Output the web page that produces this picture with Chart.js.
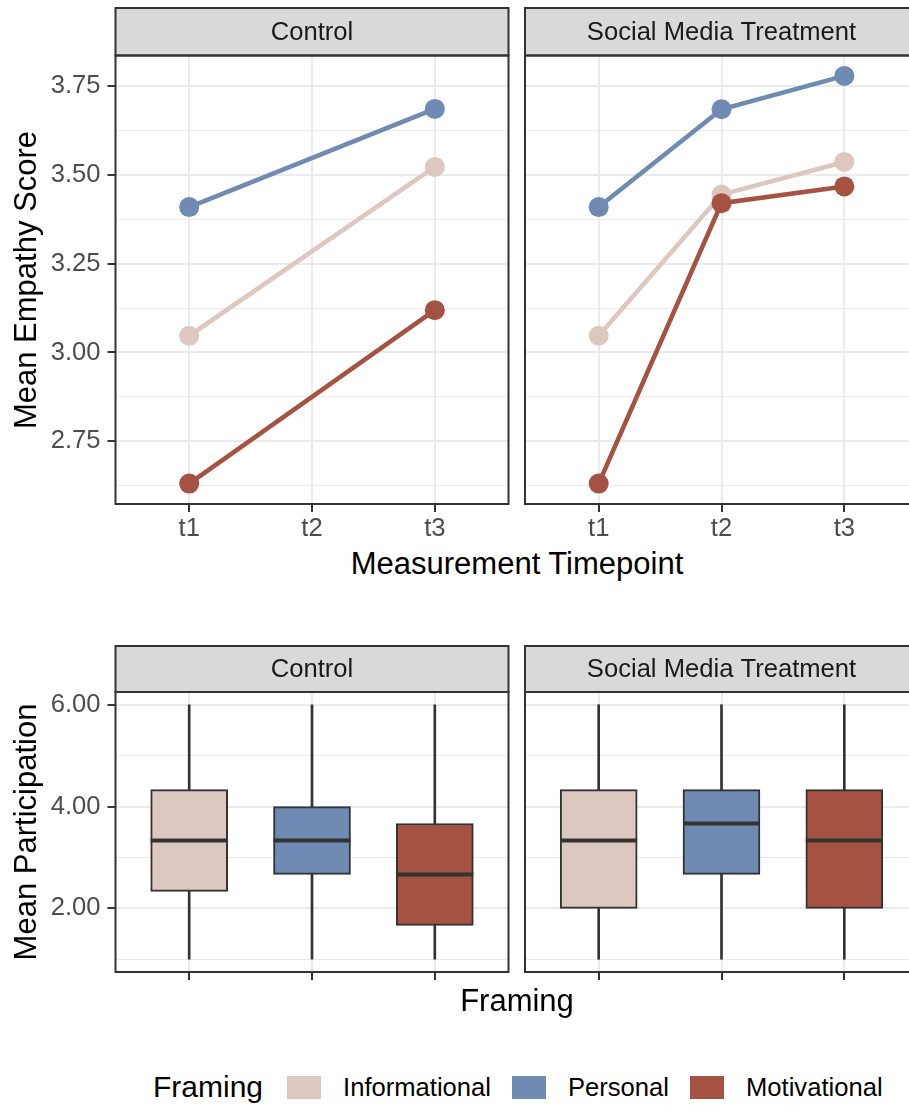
<!DOCTYPE html>
<html lang="en">
<head>
<meta charset="UTF-8">
<title>Empathy and participation by framing</title>
<script src="https://cdn.jsdelivr.net/npm/chart.js"></script>
<style>
  html, body {
    margin: 0;
    padding: 0;
    width: 909px;
    height: 1105px;
    overflow: hidden;
    background: #ffffff;
  }
  body {
    position: relative;
    font-family: "Liberation Sans", Arial, sans-serif;
  }
  canvas { position: absolute; }
  .title {
    position: absolute;
    font-size: 31px;
    line-height: 1;
    color: #000000;
    white-space: nowrap;
    transform: translate(-50%, -50%);
  }
  .title.vertical { transform: translate(-50%, -50%) rotate(-90deg); }
  #legend {
    position: absolute;
    left: 153px;
    top: 1067px;
    height: 40px;
    display: flex;
    align-items: center;
    white-space: nowrap;
  }
  #legend .head { font-size: 30px; margin-right: 24px; }
  #legend .key { width: 34px; height: 23px; margin-right: 22px; }
  #legend .lab { font-size: 25.6px; margin-right: 21px; color: #000; }
</style>
</head>
<body>

<canvas id="empathyControl"></canvas>
<canvas id="empathySocial"></canvas>
<canvas id="partControl"></canvas>
<canvas id="partSocial"></canvas>

<div class="title vertical" style="left:25px; top:280px;">Mean Empathy Score</div>
<div class="title" style="left:517px; top:563px;">Measurement Timepoint</div>
<div class="title vertical" style="left:25px; top:832px;">Mean Participation</div>
<div class="title" style="left:517px; top:1000px;">Framing</div>
<div id="legend"></div>

<script>
const timepoints = ['t1', 't2', 't3'];
const framings = ['Informational', 'Personal', 'Motivational'];
const framingColors = ['#DCC8C1', '#6F8AB3', '#A65243'];
const conditions = ['Control', 'Social Media Treatment'];

// mean empathy score (control group has no t2 measurement)
const controlInformational = [3.047, null, 3.522];
const controlPersonal = [3.409, null, 3.685];
const controlMotivational = [2.631, null, 3.119];
const socialInformational = [3.047, 3.444, 3.536];
const socialPersonal = [3.409, 3.684, 3.778];
const socialMotivational = [2.631, 3.420, 3.467];
const empathyTicks = [2.75, 3.00, 3.25, 3.50, 3.75];

// mean participation, box plot stats per framing
const controlMin = [1, 1, 1];
const controlQ1 = [2.333, 2.667, 1.667];
const controlMedian = [3.333, 3.333, 2.667];
const controlQ3 = [4.333, 4.000, 3.667];
const controlMax = [6, 6, 6];
const socialMin = [1, 1, 1];
const socialQ1 = [2.000, 2.667, 2.000];
const socialMedian = [3.333, 3.667, 3.333];
const socialQ3 = [4.333, 4.333, 4.333];
const socialMax = [6, 6, 6];
const participationTicks = [2, 4, 6];

const FONT = '"Liberation Sans", Arial, sans-serif';
const tickFont = { family: FONT, size: 25.6 };

function expand(values) {
    const v = values.filter(x => x !== null);
    const lo = Math.min(...v), hi = Math.max(...v);
    const pad = (hi - lo) * 0.05;
    return [lo - pad, hi + pad];
}

function withMinors(majors, lo, hi) {
    const step = majors[1] - majors[0];
    const out = majors.map(v => ({ value: v, minor: false }));
    majors.forEach(v => out.push({ value: v - step / 2, minor: true }));
    out.push({ value: majors[majors.length - 1] + step / 2, minor: true });
    return out.filter(t => t.value >= lo && t.value <= hi).sort((a, b) => a.value - b.value);
}

const empathyRange = expand([].concat(controlInformational, controlPersonal, controlMotivational,
    socialInformational, socialPersonal, socialMotivational));
const partRange = expand([].concat(controlMin, controlMax, socialMin, socialMax));

// strip on top of each panel + panel border
const panelFrame = {
    id: 'panelFrame',
    afterDraw(chart, args, opts) {
        const { ctx, chartArea: a } = chart;
        const w = a.right - a.left;
        ctx.save();
        ctx.lineWidth = 2;
        ctx.strokeStyle = '#333333';
        ctx.fillStyle = '#D9D9D9';
        ctx.fillRect(a.left, opts.stripTop, w, a.top - opts.stripTop);
        ctx.strokeRect(a.left, opts.stripTop, w, a.top - opts.stripTop);
        ctx.strokeRect(a.left, a.top, w, a.bottom - a.top);
        ctx.fillStyle = '#1A1A1A';
        ctx.font = '25.6px ' + FONT;
        ctx.textAlign = 'center';
        ctx.textBaseline = 'middle';
        ctx.fillText(opts.text, (a.left + a.right) / 2, (opts.stripTop + a.top) / 2 + 1);
        ctx.restore();
    }
};
Chart.register(panelFrame);

function makePanel(id, box, area, cfg) {
    const canvas = document.getElementById(id);
    canvas.width = box.w;
    canvas.height = box.h;
    canvas.style.left = box.x + 'px';
    canvas.style.top = box.y + 'px';

    return new Chart(canvas, {
        type: 'line',
        data: { datasets: cfg.datasets },
        options: {
            responsive: false,
            animation: false,
            devicePixelRatio: 1,
            events: [],
            layout: {
                autoPadding: false,
                padding: { left: 0, top: area.t - box.y, right: box.x + box.w - area.r, bottom: 0 }
            },
            plugins: {
                legend: { display: false },
                tooltip: { enabled: false },
                panelFrame: { text: cfg.strip, stripTop: cfg.stripTop - box.y }
            },
            scales: {
                x: {
                    type: 'linear',
                    min: 0.4,
                    max: 3.6,
                    offset: false,
                    afterBuildTicks: s => { s.ticks = cfg.xLabels.map((_, i) => ({ value: i + 1 })); },
                    afterFit: s => { s.height = box.y + box.h - area.b; },
                    ticks: {
                        autoSkip: false,
                        maxRotation: 0,
                        padding: 2,
                        font: tickFont,
                        color: '#4D4D4D',
                        callback: v => cfg.showXLabels ? cfg.xLabels[Math.round(v) - 1] : ''
                    },
                    grid: { color: '#EBEBEB', lineWidth: 2, offset: false, tickLength: 8, tickColor: '#333333', tickWidth: 2 },
                    border: { display: false }
                },
                y: {
                    type: 'linear',
                    min: cfg.range[0],
                    max: cfg.range[1],
                    afterBuildTicks: s => { s.ticks = withMinors(cfg.yTicks, cfg.range[0], cfg.range[1]); },
                    afterFit: s => { s.width = area.l - box.x; },
                    ticks: {
                        display: cfg.showY,
                        autoSkip: false,
                        padding: 7,
                        font: tickFont,
                        color: '#4D4D4D',
                        callback: (v, i, t) => t[i].minor ? '' : v.toFixed(2)
                    },
                    grid: {
                        color: '#EBEBEB',
                        lineWidth: c => (c.tick && c.tick.minor) ? 1 : 2,
                        drawTicks: cfg.showY,
                        tickLength: 8,
                        tickWidth: 2,
                        tickColor: c => (c.tick && c.tick.minor) ? 'rgba(0,0,0,0)' : '#333333'
                    },
                    border: { display: false }
                }
            }
        }
    });
}

function empathyDatasets(series) {
    const sets = [];
    series.forEach((vals, k) => {
        const pts = vals.map((v, i) => ({ x: i + 1, y: v }));
        // lines under all points; later framings on top
        sets.push({
            label: framings[k] + ' line', data: pts, borderColor: framingColors[k], borderWidth: 4.6,
            pointRadius: 0, spanGaps: true, fill: false, order: 5 - k
        });
        sets.push({
            label: framings[k], data: pts, showLine: false, pointRadius: 10, pointBorderWidth: 0,
            pointBackgroundColor: framingColors[k], order: 2 - k
        });
    });
    return sets;
}

function boxDatasets(mins, q1, med, q3, maxs) {
    return [
        {
            label: 'median', type: 'line', showLine: false,
            data: med.map((v, i) => ({ x: i + 1, y: v })),
            pointStyle: 'line', pointRadius: 38.5, pointBorderWidth: 4,
            pointBorderColor: '#333333', pointBackgroundColor: '#333333', order: 0
        },
        {
            label: 'box', type: 'bar', grouped: false,
            data: q1.map((v, i) => ({ x: i + 1, y: [v, q3[i]] })),
            backgroundColor: framingColors, borderColor: '#333333', borderWidth: 2,
            borderSkipped: false, barThickness: 77, order: 1
        },
        {
            label: 'whisker', type: 'bar', grouped: false,
            data: mins.map((v, i) => ({ x: i + 1, y: [v, maxs[i]] })),
            backgroundColor: '#333333', borderWidth: 0, barThickness: 2, order: 2
        }
    ];
}

makePanel('empathyControl',
    { x: 0, y: 0, w: 530, h: 545 },
    { l: 115.5, t: 55.5, r: 508.5, b: 504 },
    { strip: conditions[0], stripTop: 8, xLabels: timepoints, showXLabels: true, showY: true,
      yTicks: empathyTicks, range: empathyRange,
      datasets: empathyDatasets([controlInformational, controlPersonal, controlMotivational]) });

makePanel('empathySocial',
    { x: 515, y: 0, w: 420, h: 545 },
    { l: 525, t: 55.5, r: 918, b: 504 },
    { strip: conditions[1], stripTop: 8, xLabels: timepoints, showXLabels: true, showY: false,
      yTicks: empathyTicks, range: empathyRange,
      datasets: empathyDatasets([socialInformational, socialPersonal, socialMotivational]) });

makePanel('partControl',
    { x: 0, y: 600, w: 530, h: 400 },
    { l: 115.5, t: 692, r: 508.5, b: 972 },
    { strip: conditions[0], stripTop: 646, xLabels: framings, showXLabels: false, showY: true,
      yTicks: participationTicks, range: partRange,
      datasets: boxDatasets(controlMin, controlQ1, controlMedian, controlQ3, controlMax) });

makePanel('partSocial',
    { x: 515, y: 600, w: 420, h: 400 },
    { l: 525, t: 692, r: 918, b: 972 },
    { strip: conditions[1], stripTop: 646, xLabels: framings, showXLabels: false, showY: false,
      yTicks: participationTicks, range: partRange,
      datasets: boxDatasets(socialMin, socialQ1, socialMedian, socialQ3, socialMax) });

// legend
const legend = document.getElementById('legend');
legend.innerHTML = '<span class="head">Framing</span>' + framings.map((f, i) =>
    `<span class="key" style="background:${framingColors[i]}"></span><span class="lab">${f}</span>`).join('');
</script>
</body>
</html>
